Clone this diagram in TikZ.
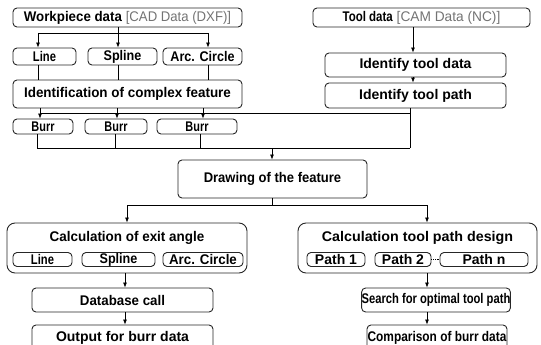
\documentclass[tikz,border=0pt]{standalone}
\usepackage{fontspec}
\setmainfont{Liberation Sans}
\usetikzlibrary{arrows.meta}
\newcommand{\sx}[2]{\scalebox{#1}[1]{#2}}
\newcommand{\gnote}[2]{{\mdseries\color{black!55}\sx{#1}{#2}}}
\begin{document}
\begin{tikzpicture}[x=1pt,y=-1pt,
  box/.style={draw=black!85, line width=0.9pt, rounded corners=4pt, inner sep=0pt,
              font=\fontsize{14}{16}\selectfont\bfseries},
  bigbox/.style={box, rounded corners=8pt},
  wh/.style 2 args={minimum width=#1pt, minimum height=#2pt},
  lbl/.style={inner sep=0pt, font=\fontsize{14}{16}\selectfont\bfseries},
  conn/.style={line width=0.7pt, black},
  arr/.style={conn, -{Latex[length=5pt,width=4pt]}}
]
\useasboundingbox (0,0) rectangle (541,345);
\clip (0,0) rectangle (541,345);

% ---- top left
\node[box, wh={229}{19}] (wp) at (127.5,17.5) {\sx{0.95}{Workpiece data} \gnote{0.94}{[CAD Data (DXF)]}};
\node[box, wh={63}{17}] (l1) at (44.5,56.5) {\sx{0.8}{Line}};
\node[box, wh={69}{17}] (s1) at (122.5,56.5) {\sx{0.9}{Spline}};
\node[box, wh={79}{17}] (a1) at (202.5,56.5) {\sx{0.9}{Arc. Circle}};
\node[box, wh={229}{28}] (idf) at (127.5,94) {\sx{0.96}{Identification of complex feature}};
\node[box, wh={60}{15}] (b1) at (43,126.5) {\sx{0.78}{Burr}};
\node[box, wh={62}{15}] (b2) at (116,126.5) {\sx{0.78}{Burr}};
\node[box, wh={80}{15}] (b3) at (197,126.5) {\sx{0.78}{Burr}};

% ---- top right
\node[box, wh={217}{19}] (td) at (421.5,17.5) {\sx{0.82}{Tool data} \gnote{0.98}{[CAM Data (NC)]}};
\node[box, wh={181}{24}] (itd) at (415.5,65) {Identify tool data};
\node[box, wh={181}{25}] (itp) at (415.5,95.5) {Identify tool path};

% ---- middle
\node[box, wh={189}{38}] (dr) at (272.5,179) {\sx{0.93}{Drawing of the feature}};

% ---- bottom left
\node[bigbox, wh={240}{50}] (ce) at (127,248) {};
\node[lbl] (cel) at (127,238) {\sx{0.96}{Calculation of exit angle}};
\node[box, wh={59}{14}] (l2) at (42.5,259.5) {\sx{0.8}{Line}};
\node[box, wh={73}{14}] (s2) at (118.5,259.5) {\sx{0.9}{Spline}};
\node[box, wh={80}{14}] (a2) at (203,259.5) {\sx{0.95}{Arc. Circle}};
\node[box, wh={181}{24}] (db) at (122.5,300) {\sx{0.95}{Database call}};
\node[box, wh={181}{25}] (out) at (122.5,337.5) {Output for burr data};

% ---- bottom right
\node[bigbox, wh={239}{50}] (ct) at (417.5,248) {};
\node[lbl] (ctl) at (417.5,238) {\sx{1.02}{Calculation tool path design}};
\node[box, wh={58}{14}] (p1) at (336,259.5) {Path 1};
\node[box, wh={56}{14}] (p2) at (403,259.5) {Path 2};
\node[box, wh={88}{14}] (pn) at (484,259.5) {Path n};
\node[box, wh={142}{24}] (so) at (436,300) {\sx{0.8}{Search for optimal tool path}};
\node[box, wh={140}{25}] (cb) at (437,337.5) {\sx{0.85}{Comparison of burr data}};

% ---- connectors
\coordinate (j0) at (118,33);
\coordinate (jl) at (38,33);
\coordinate (jr) at (208,33);
\draw[conn] (wp.south -| j0) -- (j0);
\draw[conn] (jl) -- (jr);
\draw[arr] (jl) -- (l1.north -| jl);
\draw[arr] (j0) -- (s1.north -| j0);
\draw[arr] (jr) -- (a1.north -| jr);
\draw[conn] (l1.south -| jl) -- (idf.north -| jl);
\draw[conn] (s1.south -| j0) -- (idf.north -| j0);
\draw[conn] (a1.south -| jr) -- (idf.north -| jr);

\coordinate (tx) at (413,0);
\draw[arr] (td.south -| tx) -- (itd.north -| tx);
\draw[arr] (itd.south -| tx) -- (itp.north -| tx);

\coordinate (k1) at (40,113);
\coordinate (k2) at (117,113);
\coordinate (k3) at (203,113);
\coordinate (kt) at (410,113);
\draw[arr] (idf.south -| k1) -- (b1.north -| k1);
\draw[arr] (idf.south -| k2) -- (b2.north -| k2);
\draw[arr] (idf.south -| k3) -- (b3.north -| k3);
\draw[conn] (k1) -- (kt);

\coordinate (m1) at (37,148);
\coordinate (m2) at (115,148);
\coordinate (m3) at (200,148);
\coordinate (m4) at (410,148);
\coordinate (mc) at (272,148);
\draw[conn] (itp.south -| m4) -- (m4);
\draw[conn] (b1.south -| m1) -- (m1);
\draw[conn] (b2.south -| m2) -- (m2);
\draw[conn] (b3.south -| m3) -- (m3);
\draw[conn] (m1) -- (m4);
\draw[arr] (mc) -- (dr.north -| mc);

\coordinate (n0) at (272,205);
\coordinate (nl) at (127,205);
\coordinate (nr) at (427,205);
\draw[conn] (dr.south -| n0) -- (n0);
\draw[conn] (nl) -- (nr);
\draw[arr] (nl) -- (ce.north -| nl);
\draw[arr] (nr) -- (ct.north -| nr);

\coordinate (q1) at (125,0);
\coordinate (q2) at (427,0);
\draw[arr] (ce.south -| q1) -- (db.north -| q1);
\draw[arr] (db.south -| q1) -- (out.north -| q1);
\draw[arr] (ct.south -| q2) -- (so.north -| q2);
\draw[arr] (so.south -| q2) -- (cb.north -| q2);
\draw[conn, densely dotted] (p2.east) -- (pn.west);
\end{tikzpicture}
\end{document}
